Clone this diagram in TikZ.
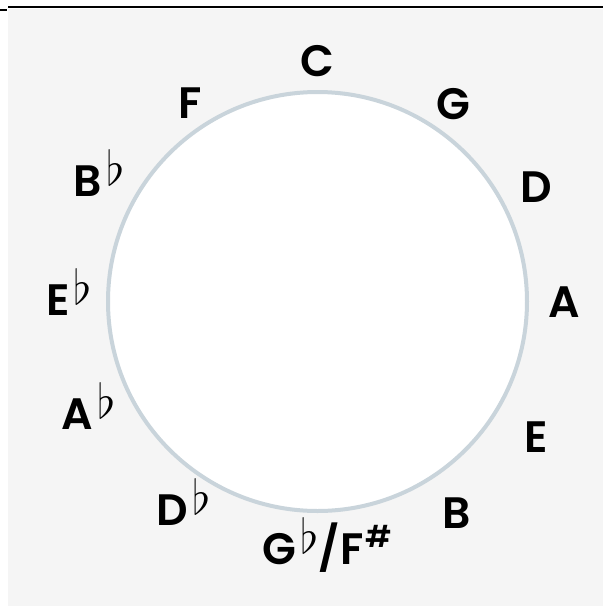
\documentclass[tikz,border=0pt]{standalone}
\usepackage{fontspec}
\setmainfont{Poppins}[BoldFont={* SemiBold}]
\definecolor{ringgray}{HTML}{C9D4DB}
\definecolor{pagegray}{HTML}{F5F5F5}
\newcommand{\fl}{\hspace{4pt}\raisebox{11pt}{\resizebox{!}{36pt}{$\flat$}}}
\newcommand{\shp}{\hspace{2pt}\raisebox{17pt}{\fontsize{30}{30}\selectfont\#}}
\tikzset{
  key/.style={font=\fontsize{44}{44}\selectfont\bfseries, inner sep=0pt, anchor=base},
}
\begin{document}
\begin{tikzpicture}[x=1pt,y=-1pt]
                    \useasboundingbox (0,0) rectangle (603,606);
                    \fill[pagegray] (8,9) rectangle (603,606);
                    \draw[line width=2pt] (8,7) -- (603,7);
                    \draw[line width=2pt] (0,9.5) -- (7,9.5);
                    \filldraw[fill=white, draw=ringgray, line width=4pt] (317.5,301.5) circle (209.5);
                    \node[key] (c)  at (317.5,76)  {C};
                    \node[key] (g)  at (453,119)   {G};
                    \node[key] (d)  at (536,202)   {D};
                    \node[key] (a)  at (564.5,317) {A};
                    \node[key] (e)  at (536,452)   {E};
                    \node[key] (b)  at (457,528)   {B};
                    \node[key] (gf) at (327.5,564) {G\fl/F\shp};
                    \node[key] (df) at (183.5,525) {D\fl};
                    \node[key] (af) at (88.5,429)  {A\fl};
                    \node[key] (ef) at (69,315)    {E\fl};
                    \node[key] (bf) at (99,196)    {B\fl};
                    \node[key] (f)  at (190.5,118) {F};
                \end{tikzpicture}
\end{document}
